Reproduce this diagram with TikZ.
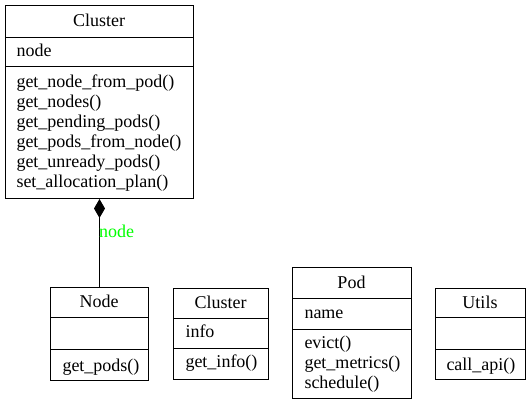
\documentclass[tikz,border=0pt]{standalone}
\usepackage{fontspec}
\setmainfont{Liberation Serif}
\usepackage{xcolor}
\usetikzlibrary{arrows.meta}
\definecolor{ublack}{HTML}{000000}
\definecolor{ugreen}{HTML}{00FF00}

\begin{document}
\begin{tikzpicture}[x=1pt, y=-1pt, line width=1pt,
	classbox/.style={draw = ublack, rectangle, inner sep=0pt, anchor=north west},
	cname/.style={anchor=base, inner sep=0pt, font=\fontsize{18}{20}\selectfont},
	member/.style={anchor=base west, inner sep=0pt, font=\fontsize{18}{20}\selectfont}]
	\useasboundingbox (0,0) rectangle (531,405);
	% class Cluster (big)
	\node[classbox, minimum width=188pt, minimum height=193pt] (cluster) at (5,5) {};
	\draw[draw = ublack] (5,37) -- (193,37);
	\draw[draw = ublack] (5,66) -- (193,66);
	\node[cname] (cluster-title) at (99,26) {Cluster};
	\node[member] (cluster-node) at (16,56) {node};
	\node[member] (cluster-m1) at (16,87) {get\_node\_from\_pod()};
	\node[member] (cluster-m2) at (16,107) {get\_nodes()};
	\node[member] (cluster-m3) at (16,127) {get\_pending\_pods()};
	\node[member] (cluster-m4) at (16,147) {get\_pods\_from\_node()};
	\node[member] (cluster-m5) at (16,167) {get\_unready\_pods()};
	\node[member] (cluster-m6) at (16,187) {set\_allocation\_plan()};
	% class Node
	\node[classbox, minimum width=98pt, minimum height=93pt] (node) at (50,287) {};
	\draw[draw = ublack] (50,317) -- (148,317);
	\draw[draw = ublack] (50,349) -- (148,349);
	\node[cname] (node-title) at (99,307) {Node};
	\node[member] (node-m1) at (62,371) {get\_pods()};
	% composition
	\draw[draw = ublack, -{Diamond[length=19pt, width=11pt, fill = ublack]}] (node.north) -- (cluster.south)
		node[pos=0.56, anchor=base west, xshift=-1pt, inner sep=0pt, text = ugreen, font=\fontsize{18}{20}\selectfont] (comp-label) {node};
	% class Cluster (small)
	\node[classbox, minimum width=95pt, minimum height=91pt] (cluster2) at (173,288) {};
	\draw[draw = ublack] (173,318) -- (268,318);
	\draw[draw = ublack] (173,348) -- (268,348);
	\node[cname] (cluster2-title) at (220.5,308) {Cluster};
	\node[member] (cluster2-info) at (185,337) {info};
	\node[member] (cluster2-m1) at (185,367) {get\_info()};
	% class Pod
	\node[classbox, minimum width=119pt, minimum height=131pt] (pod) at (292,267) {};
	\draw[draw = ublack] (292,298) -- (411,298);
	\draw[draw = ublack] (292,329) -- (411,329);
	\node[cname] (pod-title) at (351.5,288) {Pod};
	\node[member] (pod-name) at (304,318) {name};
	\node[member] (pod-m1) at (304,348) {evict()};
	\node[member] (pod-m2) at (304,368) {get\_metrics()};
	\node[member] (pod-m3) at (304,388) {schedule()};
	% class Utils
	\node[classbox, minimum width=90pt, minimum height=91pt] (utils) at (435,288) {};
	\draw[draw = ublack] (435,317) -- (525,317);
	\draw[draw = ublack] (435,349) -- (525,349);
	\node[cname] (utils-title) at (480,308) {Utils};
	\node[member] (utils-m1) at (446,370) {call\_api()};
\end{tikzpicture}
\end{document}
